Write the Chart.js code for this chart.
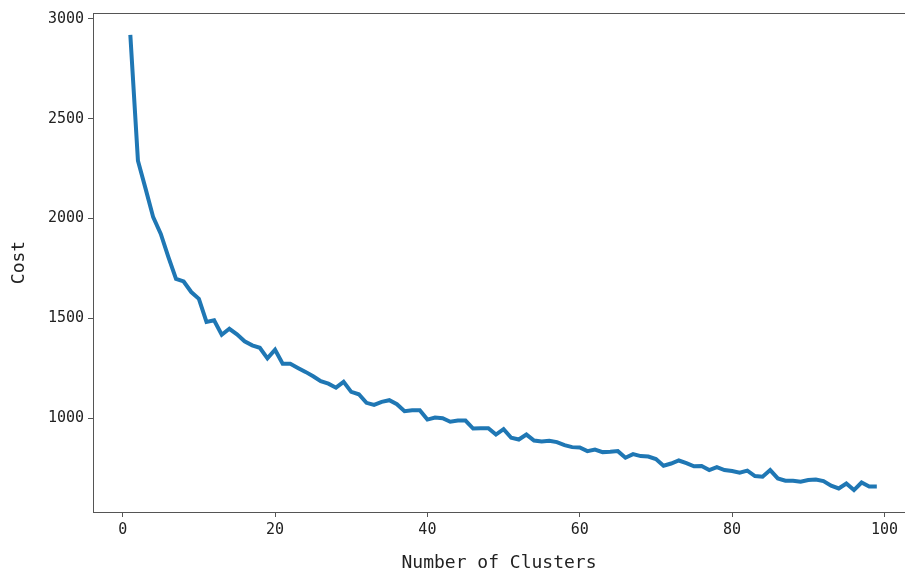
<!DOCTYPE html>
<html>
<head>
<meta charset="utf-8">
<script src="https://cdn.jsdelivr.net/npm/chart.js@4/dist/chart.umd.min.js"></script>
<style>
  html, body { margin: 0; padding: 0; background: #fff; }
  #wrap { width: 905px; height: 574px; }
</style>
</head>
<body>
<div id="wrap"><canvas id="elbowChart" width="905" height="574"></canvas></div>
<script>
// --- dados ---
const clusters = [];
for (let k = 1; k <= 99; k++) clusters.push(k);

const cost = [
  2920, 2290, 2150, 2007, 1923, 1807, 1698, 1685, 1632, 1598,
  1482, 1490, 1418, 1448, 1420, 1385, 1365, 1353, 1300, 1343,
  1273, 1273, 1252, 1232, 1210, 1185, 1173, 1153, 1182, 1132,
  1120, 1077, 1067, 1082, 1090, 1070, 1035, 1040, 1040, 993,
  1003, 1000, 982, 988, 988, 948, 950, 950, 918, 945,
  902, 893, 918, 888, 883, 887, 880, 865, 855, 853,
  835, 843, 830, 832, 835, 802, 820, 810, 808, 795,
  762, 773, 788, 775, 759, 760, 740, 755, 740, 735,
  727, 737, 710, 707, 740, 698, 687, 687, 682, 690,
  693, 685, 662, 648, 673, 640, 678, 658, 658
];

const xTicks = [0, 20, 40, 60, 80, 100];
const yTicks = [1000, 1500, 2000, 2500, 3000];

const FONTE = "'DejaVu Sans Mono', monospace";
const COR_EIXO = '#555';

// moldura em volta da área do gráfico (estilo matplotlib)
const moldura = {
  id: 'moldura',
  afterDraw(chart) {
    const { ctx, chartArea: a } = chart;
    ctx.save();
    ctx.strokeStyle = COR_EIXO;
    ctx.lineWidth = 1;
    ctx.strokeRect(a.left + 0.5, a.top + 0.5, a.right - a.left, a.bottom - a.top);
    ctx.restore();
  }
};

new Chart(document.getElementById('elbowChart'), {
  type: 'line',
  data: {
    datasets: [{
      data: clusters.map((k, i) => ({ x: k, y: cost[i] })),
      borderColor: '#1f77b4',
      borderWidth: 4,
      pointRadius: 0,
      tension: 0,
      fill: false
    }]
  },
  options: {
    responsive: false,
    animation: false,
    layout: { padding: { top: 12, right: 0, left: 0, bottom: 0 } },
    plugins: { legend: { display: false }, tooltip: { enabled: false } },
    scales: {
      x: {
        type: 'linear',
        min: -3.9,
        max: 102.7,
        afterBuildTicks: axis => { axis.ticks = xTicks.map(v => ({ value: v })); },
        afterFit: axis => { axis.height = 62; },
        grid: { drawOnChartArea: false, drawTicks: true, tickLength: 5, color: COR_EIXO },
        border: { display: true, color: COR_EIXO },
        ticks: { color: '#222', font: { family: FONTE, size: 15 }, padding: 4, maxRotation: 0, callback: v => String(v) },
        title: { display: true, text: 'Number of Clusters', color: '#222', font: { family: FONTE, size: 18 }, padding: { top: 12, bottom: 0 } }
      },
      y: {
        min: 530,
        max: 3030,
        afterBuildTicks: axis => { axis.ticks = yTicks.map(v => ({ value: v })); },
        afterFit: axis => { axis.width = 93; },
        grid: { drawOnChartArea: false, drawTicks: true, tickLength: 5, color: COR_EIXO },
        border: { display: true, color: COR_EIXO },
        ticks: { color: '#222', font: { family: FONTE, size: 15 }, padding: 4, callback: v => String(v) },
        title: { display: true, text: 'Cost', color: '#222', font: { family: FONTE, size: 18 }, padding: { top: 9, bottom: 0 } }
      }
    }
  },
  plugins: [moldura]
});
</script>
</body>
</html>
